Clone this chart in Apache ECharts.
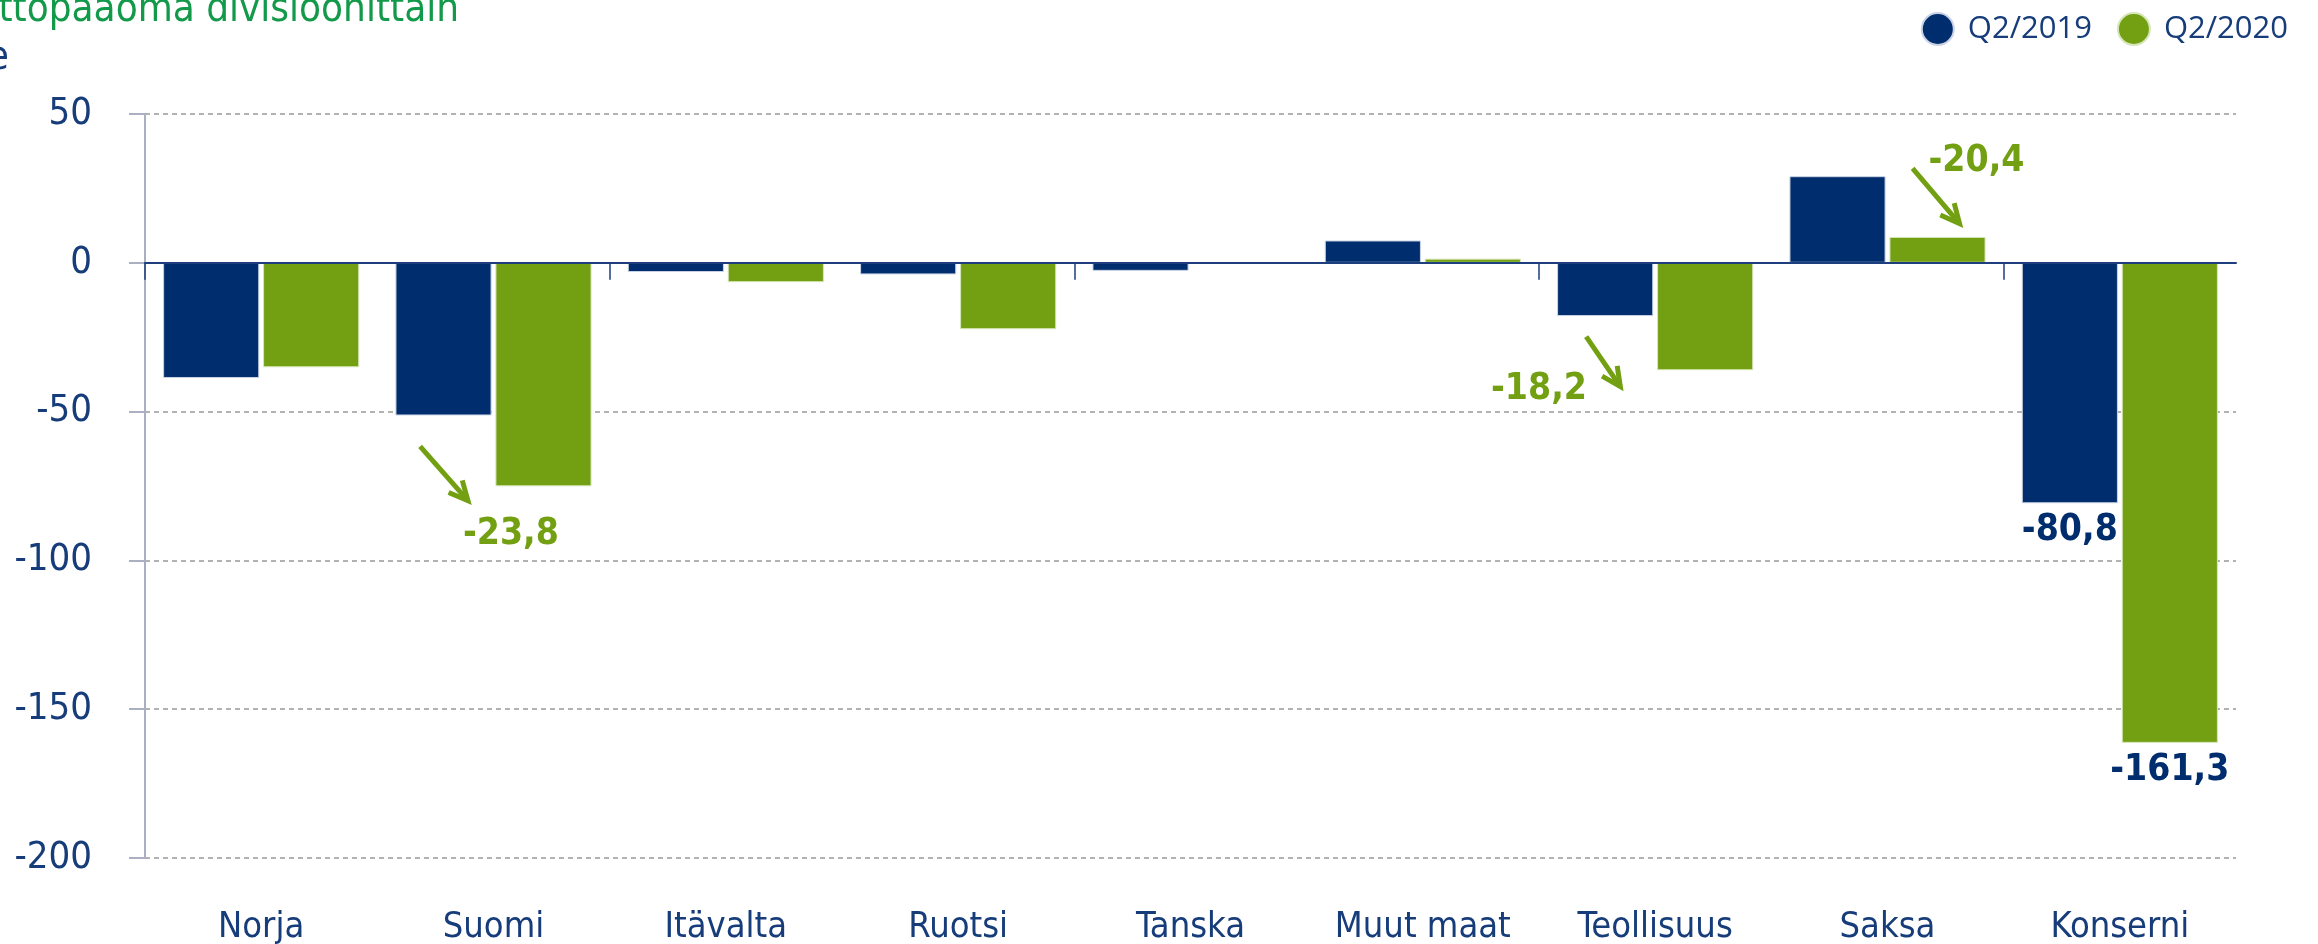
<!DOCTYPE html>
<html>
<head>
<meta charset="utf-8">
<script src="https://cdn.jsdelivr.net/npm/echarts@6/dist/echarts.min.js"></script>
<style>
  html, body { margin: 0; padding: 0; background: #fff; }
  #chart { width: 2318px; height: 944px; }
</style>
</head>
<body>
<div id="chart"></div>
<script>
  // data
  const categories = ['Norja', 'Suomi', 'Itävalta', 'Ruotsi', 'Tanska', 'Muut maat', 'Teollisuus', 'Saksa', 'Konserni']
  const q2_2019 = [-38.7, -51.3, -3.1, -3.9, -2.7, 7.5, -17.9, 29.1, -80.8]
  const q2_2020 = [-35.1, -75.1, -6.5, -22.3, 0, 1.4, -36.1, 8.7, -161.3]
  const yTicks = [-200, -150, -100, -50, 0, 50]
  const changeCategories = ['Suomi', 'Teollisuus', 'Saksa']
  const changeLabels = ['-23,8', '-18,2', '-20,4']
  const totalLabels2019 = { Konserni: '-80,8' }
  const totalLabels2020 = { Konserni: '-161,3' }

  const NAVY = '#002d6d'
  const GREEN = '#73a012'
  const TEXT = '#163c7a'
  const FONT = '"DejaVu Sans Condensed", Roboto, sans-serif'
  const BOLD_FONT = '"DejaVu Sans Condensed", "Open Sans", sans-serif'

  const withLabel = (values, labels) =>
    values.map((v, i) => {
      const txt = labels[categories[i]]
      if (v === 0) return { value: v, itemStyle: { borderWidth: 0 } }
      if (!txt) return v
      return {
        value: v,
        label: {
          show: true,
          position: 'bottom',
          distance: 9,
          formatter: txt,
          color: NAVY,
          fontSize: 37,
          fontWeight: 'bold',
          fontFamily: BOLD_FONT
        }
      }
    })

  const chart = echarts.init(document.getElementById('chart'))

  const gridLeft = 145
  const gridRight = 82
  const bandWidth = (2318 - gridLeft - gridRight) / categories.length

  chart.setOption({
    animation: false,
    legend: {
      data: ['Q2/2019', 'Q2/2020'],
      right: 25,
      top: 7,
      icon: 'circle',
      itemWidth: 32,
      itemHeight: 32,
      itemGap: 25,
      textStyle: { fontSize: 31, color: TEXT, fontFamily: '"Open Sans", sans-serif', padding: [0, 0, 0, 9] }
    },
    grid: [
      { left: gridLeft, right: gridRight, top: 114, bottom: 86, outerBoundsMode: 'none' },
      // helper grid: ticks on every second band boundary, without one at the far end
      { left: gridLeft, right: 2318 - gridLeft - bandWidth * 8, top: 114, bottom: 86, outerBoundsMode: 'none' }
    ],
    xAxis: [
      {
        type: 'category',
        data: categories,
        axisLine: { onZero: true, lineStyle: { color: '#1d3f7e', width: 2 } },
        axisTick: { show: false },
        axisLabel: { show: false },
        splitLine: { show: false },
        z: 5
      },
      {
        type: 'category',
        data: categories,
        position: 'bottom',
        axisLine: { show: false, onZero: false },
        axisTick: { show: false },
        axisLabel: { color: TEXT, fontSize: 36, fontFamily: FONT, margin: 52 }
      },
      {
        type: 'category',
        gridIndex: 1,
        data: ['', '', '', ''],
        axisLine: { show: false, onZero: true },
        axisTick: { show: true, length: 17, lineStyle: { color: '#1d3f7e', width: 1.5 } },
        axisLabel: { show: false }
      }
    ],
    yAxis: [
      {
        type: 'value',
        min: yTicks[0],
        max: yTicks[yTicks.length - 1],
        interval: 50,
        axisLine: { show: true, lineStyle: { color: '#a8b0c2', width: 2 } },
        axisTick: { show: true, length: 16, lineStyle: { color: '#a8b0c2', width: 2 } },
        axisLabel: { color: TEXT, fontSize: 38, fontFamily: FONT, margin: 53 },
        splitLine: { lineStyle: { color: '#999', width: 1.5, type: [5, 4] } }
      },
      {
        type: 'value',
        gridIndex: 1,
        min: yTicks[0],
        max: yTicks[yTicks.length - 1],
        interval: 50,
        show: false
      }
    ],
    series: [
      {
        name: 'Q2/2019',
        type: 'bar',
        data: withLabel(q2_2019, totalLabels2019),
        itemStyle: { color: NAVY, borderColor: '#c9d3e4', borderWidth: 1 },
        barGap: '4%',
        barCategoryGap: '15.6%'
      },
      {
        name: 'Q2/2020',
        type: 'bar',
        data: withLabel(q2_2020, totalLabels2020),
        itemStyle: { color: GREEN, borderColor: '#d6e6b8', borderWidth: 1 }
      }
    ]
  })

  // change annotations (arrow + text), placed relative to category centre
  const annotationLayout = [
    { from: [-0.316, -61.7], to: [-0.11, -79.9], text: [0.075, -91.3] },
    { from: [-0.297, -24.8], to: [-0.15, -41.6], text: [-0.5, -42.6] },
    { from: [0.108, 31.7], to: [0.31, 13.2], text: [0.383, 34.1] }
  ]

  const buildGraphics = () => {
    const toPx = (cat, pos) => {
      const p = chart.convertToPixel({ gridIndex: 0 }, [cat, pos[1]])
      return [p[0] + pos[0] * bandWidth, p[1]]
    }
    const elements = [
      {
        type: 'text',
        x: 459,
        y: 31,
        style: {
          text: 'Nettokäyttöpääoma divisioonittain',
          fill: '#13994a',
          font: '40px ' + FONT,
          align: 'right',
          verticalAlign: 'bottom'
        }
      },
      {
        type: 'text',
        x: 9,
        y: 79,
        style: { text: 'Me', fill: TEXT, font: '40px ' + FONT, align: 'right', verticalAlign: 'bottom' }
      }
    ]
    changeCategories.forEach((cat, i) => {
      const lay = annotationLayout[i]
      const a = toPx(cat, lay.from)
      const b = toPx(cat, lay.to)
      const t = toPx(cat, lay.text)
      const ang = Math.atan2(b[1] - a[1], b[0] - a[0])
      const head = 21
      const h1 = [b[0] - head * Math.cos(ang - 0.45), b[1] - head * Math.sin(ang - 0.45)]
      const h2 = [b[0] - head * Math.cos(ang + 0.45), b[1] - head * Math.sin(ang + 0.45)]
      elements.push({
        type: 'polyline',
        shape: { points: [a, b] },
        style: { stroke: GREEN, lineWidth: 5, fill: null }
      })
      elements.push({
        type: 'polyline',
        shape: { points: [h1, b, h2] },
        style: { stroke: GREEN, lineWidth: 5, fill: null, lineJoin: 'miter' }
      })
      elements.push({
        type: 'text',
        x: t[0],
        y: t[1],
        style: {
          text: changeLabels[i],
          fill: GREEN,
          font: 'bold 37px ' + BOLD_FONT,
          align: 'center',
          verticalAlign: 'middle'
        }
      })
    })
    chart.setOption({ graphic: { elements } })
  }
  buildGraphics()
</script>
</body>
</html>
